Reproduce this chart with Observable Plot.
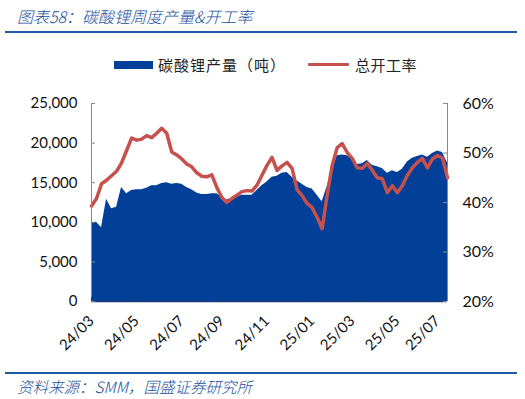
<!DOCTYPE html>
<html>
<head>
<meta charset="utf-8">
<script src="https://cdn.jsdelivr.net/npm/d3@7"></script>
<script src="https://cdn.jsdelivr.net/npm/@observablehq/plot@0.6"></script>
<style>
  body { margin: 0; background: #fff; }
  #wrap { position: relative; width: 525px; height: 399px; overflow: hidden; font-family: "Noto Sans CJK SC", sans-serif; }
  .abs { position: absolute; white-space: nowrap; }
  #title { left: 17px; top: 4px; font-size: 16px; line-height: 24px; color: #1b4f9c; font-style: italic; font-weight: 300; }
  #rule1 { left: 5px; top: 31px; width: 512px; height: 2px; background: #1f5aa8; }
  #rule2 { left: 5px; top: 372px; width: 512px; height: 2px; background: #1f5aa8; }
  #source { left: 17px; top: 375px; font-size: 15.5px; line-height: 22px; color: #1b4f9c; font-style: italic; font-weight: 300; }
  .leg { font-size: 15px; line-height: 20px; color: #222; }
  #chart { position: absolute; left: 0; top: 0; }
</style>
</head>
<body>
<div id="wrap">
  <div id="chart"></div>
  <div class="abs" id="title">图表58：碳酸锂周度产量&amp;开工率</div>
  <div class="abs" id="rule1"></div>
  <div class="abs" style="left:114px;top:61px;width:39px;height:8px;background:#023f98"></div>
  <div class="abs leg" style="left:158px;top:55px;letter-spacing:1px">碳酸锂产量（吨）</div>
  <div class="abs" style="left:308px;top:63px;width:41px;height:3px;background:#c6504b;border-radius:1px"></div>
  <div class="abs leg" style="left:355px;top:55px;letter-spacing:0.5px">总开工率</div>
  <div class="abs" id="rule2"></div>
  <div class="abs" id="source">资料来源：SMM，国盛证券研究所</div>
</div>
<script>
// weekly lithium carbonate output (tonnes)
const production = [
  9900, 10000, 9300, 12900, 11700, 11900, 14400, 13600, 14000, 14100,
  14100, 14300, 14600, 14600, 14900, 15000, 14800, 14900, 14800, 14400,
  14100, 13700, 13500, 13500, 13600, 13600, 13200, 12800, 13000, 13200,
  13400, 13400, 13400, 14000, 14600, 15100, 15700, 15800, 16200, 16300,
  15700, 15200, 14800, 14400, 14200, 13400, 12600, 14500, 16500, 18400,
  18500, 18400, 18000, 17300, 17400, 17800, 17200, 17000, 16800, 16200,
  16500, 16300, 16700, 17600, 18100, 18300, 18500, 18200, 18700, 19000,
  18800, 17500
];
// total operating rate (%)
const operatingRate = [
  39.3, 40.8, 43.8, 44.5, 45.4, 46.3, 48.0, 50.5, 53.0, 52.6,
  52.8, 53.5, 53.1, 54.0, 55.0, 54.0, 50.2, 49.6, 48.8, 47.8,
  47.2, 46.0, 45.3, 45.2, 45.6, 43.0, 41.0, 40.0, 40.8, 41.5,
  42.2, 42.4, 42.3, 43.5, 45.5, 47.5, 49.1, 46.5, 47.4, 48.1,
  46.9, 42.6, 41.4, 39.8, 39.0, 37.0, 34.7, 41.5, 47.5, 51.1,
  51.9, 50.1, 48.9, 47.0, 46.9, 47.9, 46.5, 45.0, 44.8, 42.0,
  43.4, 42.0, 43.4, 45.5, 47.0, 48.1, 48.9, 47.0, 48.8, 49.5,
  49.0, 45.0
];
const xTickIndex = [0, 9, 18, 26, 35, 44, 52, 61, 69];
const xTickLabels = ["24/03", "24/05", "24/07", "24/09", "24/11", "25/01", "25/03", "25/05", "25/07"];
const leftTicks = [0, 5000, 10000, 15000, 20000, 25000];
const rightTicks = [20, 30, 40, 50, 60];

const leftMax = 25000, rMin = 20, rMax = 60;
const toLeft = r => (r - rMin) / (rMax - rMin) * leftMax;

const data = production.map((p, i) => ({i, prod: p, rate: operatingRate[i]}));
const n = data.length - 1;
const labelOf = new Map(xTickIndex.map((k, j) => [k, xTickLabels[j]]));

const chart = Plot.plot({
  width: 525,
  height: 399,
  marginLeft: 91,
  marginRight: 78,
  marginTop: 103,
  marginBottom: 98,
  style: {fontFamily: "Lato, 'Open Sans', sans-serif", fontSize: "15px", color: "#111", background: "transparent"},
  x: {domain: [0, n]},
  y: {domain: [0, leftMax]},
  marks: [
    Plot.areaY(data, {x: "i", y: "prod", fill: "#023f98"}),
    Plot.line(data, {x: "i", y: d => toLeft(d.rate), stroke: "#c6504b", strokeWidth: 3.5, strokeLinejoin: "round"}),
    Plot.ruleX([0], {stroke: "#888", strokeWidth: 1}),
    Plot.ruleX([n], {stroke: "#888", strokeWidth: 1}),
    Plot.ruleY([0], {stroke: "#1d3d78", strokeWidth: 1.5}),
    Plot.ruleY(leftTicks, {x1: 0, x2: 0.8, stroke: "#888"}),
    Plot.ruleY(rightTicks.map(toLeft), {x1: n - 0.8, x2: n, stroke: "#888"}),
    Plot.ruleX(xTickIndex, {y1: 0, y2: 500, stroke: "#1d3d78"}),
    Plot.axisY({ticks: leftTicks, tickFormat: d3.format(","), tickSize: 0, tickPadding: 14, anchor: "left", label: null}),
    Plot.axisY({ticks: rightTicks.map(toLeft), tickFormat: v => Math.round(v / leftMax * (rMax - rMin) + rMin) + "%", tickSize: 0, tickPadding: 15, anchor: "right", label: null, fontSize: 16}),
    Plot.axisX({ticks: xTickIndex, tickFormat: d => labelOf.get(d), tickRotate: -45, tickSize: 0, tickPadding: 17, anchor: "bottom", label: null})
  ]
});
document.getElementById("chart").appendChild(chart);
</script>
</body>
</html>
